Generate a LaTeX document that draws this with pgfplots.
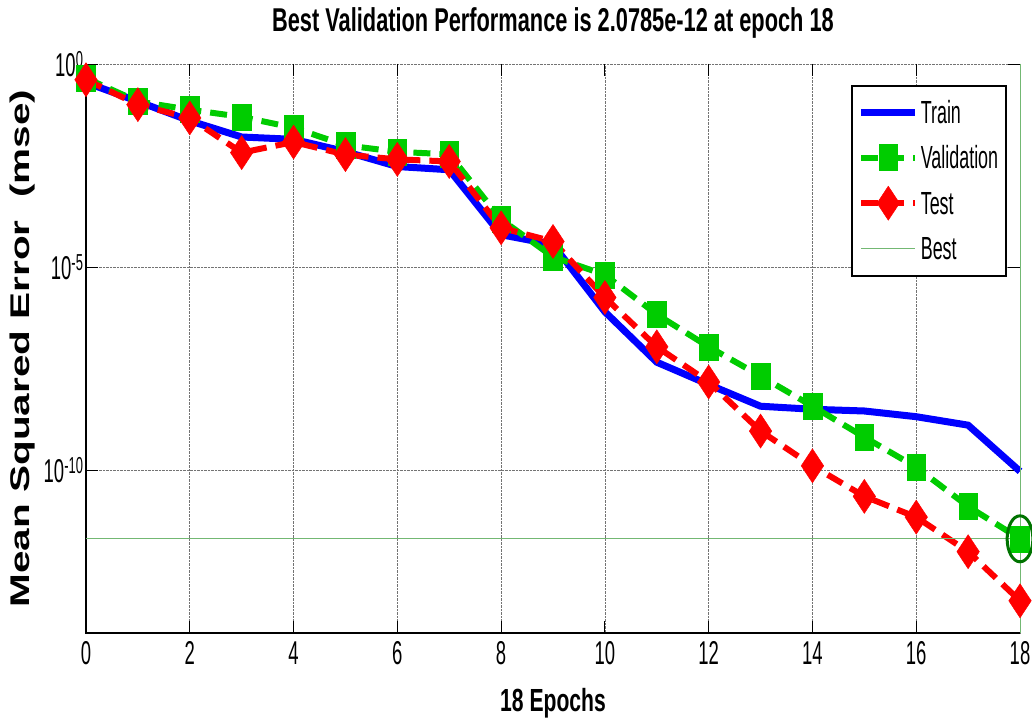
\documentclass[border=0pt]{standalone}
\usepackage{fontspec}
\setmainfont{Liberation Sans}
\newfontfamily\narrowfont[FakeStretch=0.56]{Liberation Sans}
\newfontfamily\boldnarrow[FakeStretch=0.66]{Liberation Sans}
\newfontfamily\widefont[FakeStretch=1.5]{Liberation Sans}
\usepackage{pgfplots}
\pgfplotsset{compat=1.18}
\usepackage{pgfplotstable}
\definecolor{mgreen}{rgb}{0,0.8,0}
\definecolor{bestgreen}{rgb}{0,0.45,0}
\definecolor{bestline}{rgb}{0.45,0.72,0.45}

\pgfplotstableread{
ep train val test
0  3.5e-1 4.5e-1 4.1e-1
1  1.2e-1 1.2e-1 1.0e-1
2  4.0e-2 7.5e-2 4.7e-2
3  1.6e-2 5.0e-2 6.6e-3
4  1.4e-2 2.7e-2 1.2e-2
5  7.0e-3 1.0e-2 5.9e-3
6  3.0e-3 6.9e-3 4.5e-3
7  2.5e-3 6.0e-3 4.0e-3
8  6.3e-5 1.5e-4 9.3e-5
9  3.6e-5 1.8e-5 4.3e-5
10 8.0e-7 6.5e-6 1.8e-6
11 4.6e-8 6.9e-7 1.1e-7
12 1.3e-8 1.1e-7 1.5e-8
13 3.8e-9 2.1e-8 9.3e-10
14 3.2e-9 3.8e-9 1.3e-10
15 2.9e-9 6.6e-10 2.3e-11
16 2.1e-9 1.2e-10 7.1e-12
17 1.3e-9 1.3e-11 1.0e-12
18 9.5e-11 2.0785e-12 6.2e-14
}\perf

\begin{document}
\begin{tikzpicture}
\begin{axis}[
  scale only axis, width=934pt, height=569pt,
  ymode=log, xmin=0, xmax=18, ymin=1e-14, ymax=1,
  xtick={0,2,...,18},
  ytick={1e-10,1e-5,1},
  yticklabels={10\textsuperscript{-10},10\textsuperscript{-5},10\textsuperscript{0}},
  yminorticks=false,
  /pgf/number format/assume math mode=true,
  tick label style={font=\narrowfont\fontsize{33}{34}\selectfont},
  xticklabel style={yshift=-5pt},
  yticklabel style={xshift=1pt},
  major tick length=12pt,
  tick align=inside,
  tick style={black, line width=0.8pt},
  axis line style={draw=none},
  grid=major,
  grid style={densely dotted, black!55, line width=0.7pt},
  clip=false,
  title={Best Validation Performance is 2.0785e-12 at epoch 18},
  title style={font=\boldnarrow\bfseries\fontsize{33}{34}\selectfont, at={(axis description cs:0.5,1)}, anchor=center, yshift=35pt},
  xlabel={18 Epochs},
  xlabel style={font=\boldnarrow\bfseries\fontsize{32}{34}\selectfont, at={(axis description cs:0.5,0)}, anchor=center, yshift=-70pt},
  ylabel={Mean Squared Error~~(mse)},
  ylabel style={font=\widefont\bfseries\fontsize{27}{28}\selectfont, at={(axis description cs:-0.0685,0.5)}, anchor=center},
  legend cell align=left,
  legend style={at={(axis description cs:0.986,0.963)}, anchor=north east,
    font=\narrowfont\fontsize{32}{34}\selectfont,
    draw=black, line width=1.5pt, fill=white,
    inner xsep=6pt, inner ysep=11pt, row sep=12.7pt,
    nodes={inner sep=2pt, text height=25pt, text depth=3pt}},
  legend image code/.code={\draw[mark repeat=2,mark phase=2,#1] plot coordinates {(0pt,0pt) (27pt,0pt) (54pt,0pt)};},
]
\coordinate (bl) at (rel axis cs:0,0);
\draw[black, line width=1.3pt] (rel axis cs:0,1) -- (rel axis cs:0,0) -- (rel axis cs:1,0);
\addplot[blue, line width=7pt] table[x=ep, y=train] {\perf};
\addlegendentry{Train}
\addplot[mgreen, line width=6pt, dash pattern=on 17pt off 9pt, mark=square*, mark size=13pt,
  mark options={solid, xscale=0.72, line width=0.5pt, fill=mgreen}] table[x=ep, y=val] {\perf};
\addlegendentry{Validation}
\addplot[red, line width=6pt, dash pattern=on 17pt off 9pt, mark=diamond*, mark size=17pt,
  mark options={solid, xscale=0.88, line width=0.5pt, fill=red}] table[x=ep, y=test] {\perf};
\addlegendentry{Test}
\addplot[bestline, line width=0.9pt] coordinates {(0,2.0785e-12) (18,2.0785e-12)};
\addlegendentry{Best}
\addplot[bestline, line width=0.9pt, forget plot] coordinates {(18,1e-14) (18,1)};
\addplot[only marks, mark=o, mark size=23pt, forget plot,
  mark options={draw=bestgreen, line width=3pt, xscale=0.56}] coordinates {(18,2.0785e-12)};
\end{axis}
\pgfresetboundingbox
\path (bl) ++(-86pt,-89pt) rectangle ++(1032pt,722pt);
\end{tikzpicture}
\end{document}
